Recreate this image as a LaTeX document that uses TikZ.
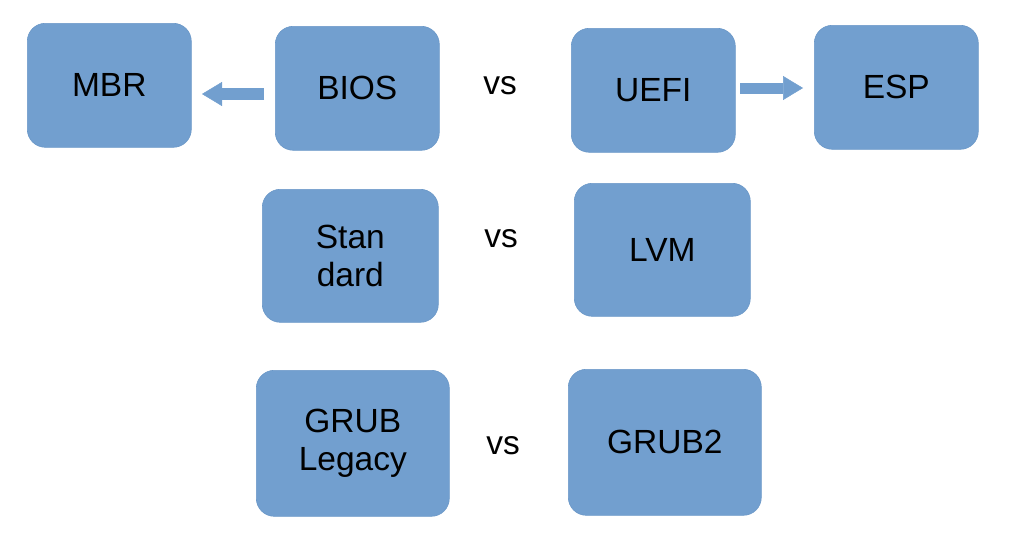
\documentclass[tikz,border=0pt]{standalone}
\usepackage{fontspec}
\setmainfont{Liberation Sans}
\usetikzlibrary{arrows.meta}
\definecolor{boxblue}{HTML}{729FCF}
\definecolor{boxedge}{HTML}{6B98C8}
\tikzset{
  box/.style={draw=boxedge, line width=0.6pt, fill=boxblue, rounded corners=18pt,
    inner sep=0pt, anchor=north west, align=center, font=\fontsize{33.5}{37.5}\selectfont},
  vstext/.style={font=\fontsize{33.5}{37.5}\selectfont},
  blockarrow/.style={draw=boxblue, line width=#1,
    -{Triangle[length=20pt, width=24pt, line width=0.5pt]}},
}
\begin{document}
\begin{tikzpicture}[x=1pt,y=-1pt]
\useasboundingbox (0,0) rectangle (1024,552);
\node[box, minimum width=164pt, minimum height=124pt] (MBR)  at (27,23)  {MBR};
\node[box, minimum width=164pt, minimum height=124pt] (BIOS) at (275,26) {BIOS};
\node[box, minimum width=164pt, minimum height=124pt] (UEFI) at (571,28) {UEFI};
\node[box, minimum width=164pt, minimum height=124pt] (ESP)  at (814,25) {ESP};
\node[box, minimum width=176pt, minimum height=133pt] (STD)  at (262,189) {Stan\\dard};
\node[box, minimum width=176pt, minimum height=133pt] (LVM)  at (574,183) {LVM};
\node[box, minimum width=193pt, minimum height=146pt] (GL)   at (256,370) {GRUB\\Legacy};
\node[box, minimum width=193pt, minimum height=146pt] (G2)   at (568,369) {GRUB2};
\node[vstext] (vs1) at (500,86) {vs};
\node[vstext] (vs2) at (501,239) {vs};
\node[vstext] (vs3) at (503,446) {vs};
\coordinate (a1s) at (264,94);
\coordinate (a1e) at (202,94);
\coordinate (a2s) at (740,88);
\coordinate (a2e) at (803,88);
\draw[blockarrow=12pt] (a1s) -- (a1e);
\draw[blockarrow=11pt] (a2s) -- (a2e);
\end{tikzpicture}
\end{document}
